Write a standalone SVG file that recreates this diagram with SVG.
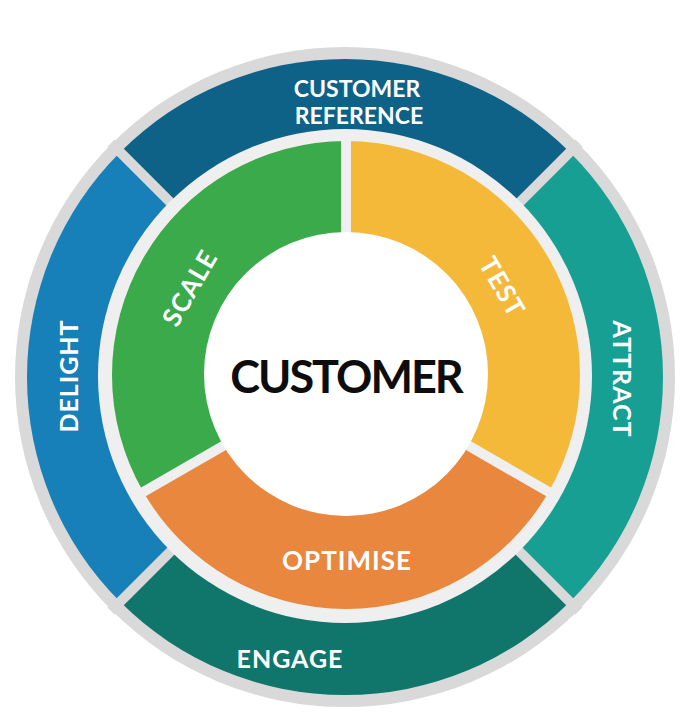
<svg xmlns="http://www.w3.org/2000/svg" width="696" height="722" viewBox="0 0 696 722">
<style>
  .lbl { font-family: Lato, "Open Sans", "Liberation Sans", sans-serif; font-weight: 700; fill: #ffffff; text-anchor: middle; }
  .outer-lbl { font-size: 25px; letter-spacing: 1px; }
  .inner-lbl { font-size: 26px; letter-spacing: 1px; }
  .top-lbl { font-size: 23px; letter-spacing: 0px; }
  .center-lbl { font-family: Lato, "Open Sans", "Liberation Sans", sans-serif; font-weight: 700; font-size: 45px; letter-spacing: -2px; fill: #0d0d0d; text-anchor: middle; }
  .gap-outer { stroke: #d9d9d9; stroke-width: 10; }
  .gap-inner { stroke: #efefef; stroke-width: 10; }
</style>
<rect width="696" height="722" fill="#ffffff"/>
<circle cx="345" cy="377" r="330" fill="#d9d9d9"/>

<g id="customer-reference">
  <path d="M345,377 L120.14,152.14 A318,318 0 0 1 569.86,152.14 Z" fill="#0e6187"/>
  <text class="lbl top-lbl" x="357" y="97">CUSTOMER</text>
  <text class="lbl top-lbl" x="359" y="124">REFERENCE</text>
</g>
<g id="attract">
  <path d="M345,377 L569.86,152.14 A318,318 0 0 1 569.86,601.86 Z" fill="#189f93"/>
  <text class="lbl outer-lbl" transform="translate(613,379) rotate(90)" x="0" y="0">ATTRACT</text>
</g>
<g id="engage">
  <path d="M345,377 L569.86,601.86 A318,318 0 0 1 120.14,601.86 Z" fill="#10766b"/>
  <text class="lbl outer-lbl" x="290" y="668">ENGAGE</text>
</g>
<g id="delight">
  <path d="M345,377 L120.14,601.86 A318,318 0 0 1 120.14,152.14 Z" fill="#1780b8"/>
  <text class="lbl outer-lbl" transform="translate(78,376) rotate(-90)" x="0" y="0">DELIGHT</text>
</g>

<g id="dividers">
  <line class="gap-outer" x1="345" y1="377" x2="111" y2="143"/>
  <line class="gap-outer" x1="345" y1="377" x2="579" y2="143"/>
  <line class="gap-outer" x1="345" y1="377" x2="579" y2="611"/>
  <line class="gap-outer" x1="345" y1="377" x2="111" y2="611"/>
</g>

<circle cx="345" cy="376" r="247" fill="#efefef"/>

<g id="scale">
  <path d="M346,375 L143.35,492 A234,234 0 0 1 346,141 Z" fill="#3aaa4b"/>
  <text class="lbl inner-lbl" transform="translate(190,288) rotate(-60)" x="0" y="9">SCALE</text>
</g>
<g id="test">
  <path d="M346,375 L346,141 A234,234 0 0 1 548.65,492 Z" fill="#f5b93a"/>
  <text class="lbl inner-lbl" transform="translate(502,287) rotate(60)" x="0" y="9">TEST</text>
</g>
<g id="optimise">
  <path d="M346,375 L548.65,492 A234,234 0 0 1 143.35,492 Z" fill="#e8873d"/>
  <text class="lbl inner-lbl" x="347" y="570">OPTIMISE</text>
</g>

<g id="inner-dividers">
  <line class="gap-inner" x1="346" y1="375" x2="346" y2="135"/>
  <line class="gap-inner" x1="346" y1="375" x2="138" y2="495"/>
  <line class="gap-inner" x1="346" y1="375" x2="554" y2="495"/>
</g>

<g id="customer">
  <circle cx="346" cy="374" r="142" fill="#ffffff"/>
  <text class="center-lbl" x="346" y="393">CUSTOMER</text>
</g>
</svg>
